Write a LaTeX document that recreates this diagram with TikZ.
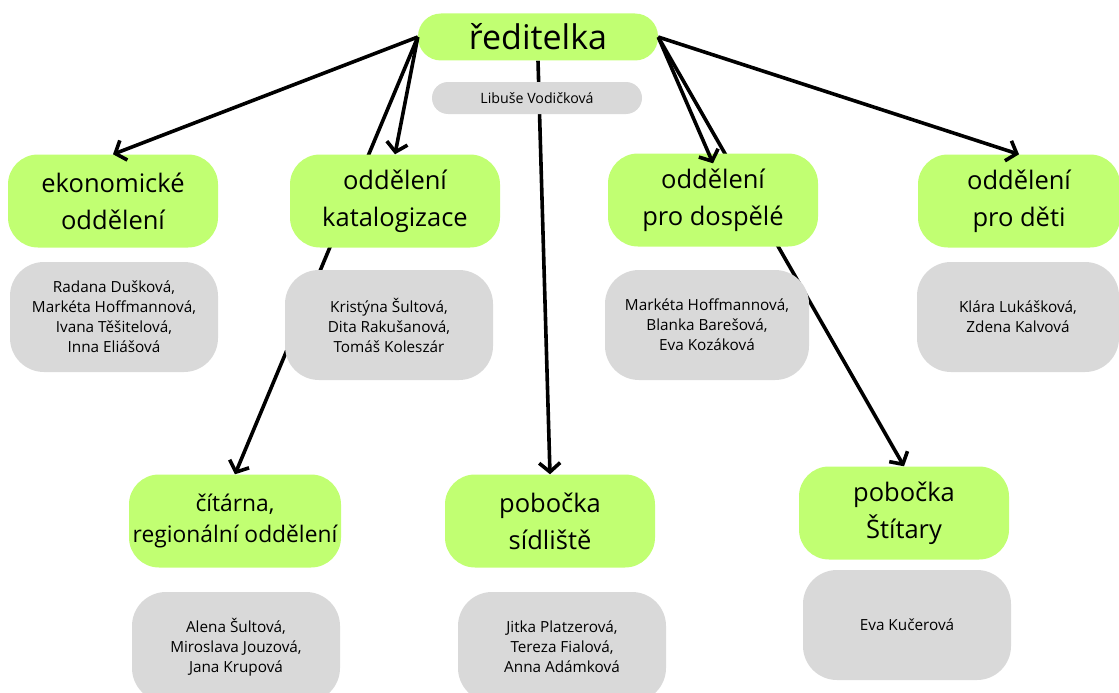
\documentclass[tikz,border=0pt]{standalone}
\usepackage{fontspec}
\setmainfont{Open Sans}
\usetikzlibrary{arrows.meta,backgrounds}
\definecolor{zelena}{HTML}{C1FF72}
\definecolor{seda}{HTML}{D9D9D9}

\begin{document}
\begin{tikzpicture}[x=1pt,y=-1pt]

      \clip (0,0) rectangle (1119,693);

      \node[fill=zelena,rounded corners=23pt,minimum width=240pt,minimum height=47pt,
        font=\fontsize{34}{40}\selectfont] (dir) at (538,37) {ředitelka};
      \node[fill=seda,rounded corners=16pt,minimum width=210pt,minimum height=32pt,
        font=\fontsize{14.2}{18}\selectfont] (vod) at (537,98) {Libuše Vodičková};

      \begin{scope}[every node/.style={fill=zelena,rounded corners=30pt,align=center,inner sep=2pt,
          minimum width=210pt,minimum height=93pt,font=\fontsize{25.5}{37}\selectfont}]
        \node (ekon) at (113,201) {ekonomické\\oddělení};
        \node (kat)  at (395,201) {oddělení\\katalogizace};
        \node (dosp) at (713,200) {oddělení\\pro dospělé};
        \node[minimum width=202pt] (deti) at (1019,201) {oddělení\\pro děti};
        \node[minimum width=212pt,font=\fontsize{22.8}{31}\selectfont] (cit) at (235,521) {čítárna,\\regionální oddělení};
        \node (sidl) at (550,521) {pobočka\\sídliště};
        \node (stit) at (904,513) {pobočka\\Štítary};
      \end{scope}

      \begin{scope}[every node/.style={fill=seda,rounded corners=34pt,align=center,
          minimum width=208pt,minimum height=110pt,font=\fontsize{15.3}{20}\selectfont}]
        \node (ekon-lid) at (114,317) {Radana Dušková,\\Markéta Hoffmannová,\\Ivana Těšitelová,\\Inna Eliášová};
        \node (kat-lid)  at (389,325) {Kristýna Šultová,\\Dita Rakušanová,\\Tomáš Koleszár};
        \node[minimum width=204pt] (dosp-lid) at (707,325) {Markéta Hoffmannová,\\Blanka Barešová,\\Eva Kozáková};
        \node[minimum width=202pt] (deti-lid) at (1018,317) {Klára Lukášková,\\Zdena Kalvová};
        \node (cit-lid)  at (236,647) {Alena Šultová,\\Miroslava Jouzová,\\Jana Krupová};
        \node (sidl-lid) at (562,647) {Jitka Platzerová,\\Tereza Fialová,\\Anna Adámková};
        \node (stit-lid) at (907,625) {Eva Kučerová};
      \end{scope}

      \begin{scope}[every edge/.style={draw,line width=3.6pt,
          -{Straight Barb[length=9pt,width=21pt]}}]
        \begin{scope}[on background layer]
          \path (dir.west)  edge (cit.north);
          \path (dir.south) edge (sidl.north);
          \path (dir.east)  edge (stit.north);
        \end{scope}
        \path (dir.west) edge (ekon.north);
        \path (dir.west) edge (kat.north);
        \path (dir.east) edge ([yshift=-10pt]dosp.north);
        \path (dir.east) edge (deti.north);
      \end{scope}

    \end{tikzpicture}
\end{document}
